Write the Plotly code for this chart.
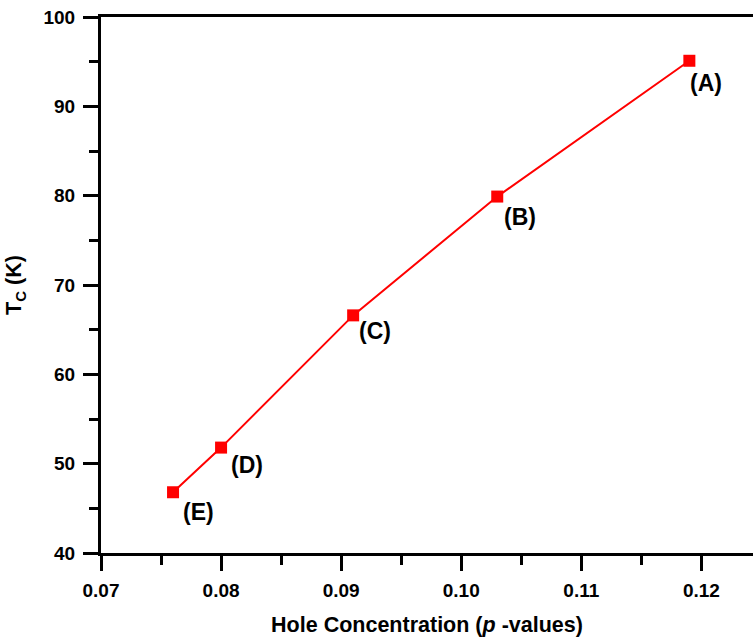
import plotly.graph_objects as go

hole_conc = [0.076, 0.080, 0.091, 0.103, 0.119]
tc_values = [46.8, 51.8, 66.6, 79.9, 95.1]
point_labels = ["(E)", "(D)", "(C)", "(B)", "(A)"]
label_dx = [25, 26, 22, 23, 17]
label_dy = [-20, -17, -16, -20, -22]

FONT = "Liberation Sans, Arial, sans-serif"

fig = go.Figure()
fig.add_trace(go.Scatter(
    x=hole_conc, y=tc_values, mode="lines+markers",
    line=dict(color="#ff0000", width=2),
    marker=dict(symbol="square", size=12, color="#ff0000"),
    showlegend=False,
))

for xv, yv, t, dx, dy in zip(hole_conc, tc_values, point_labels, label_dx, label_dy):
    fig.add_annotation(x=xv, y=yv, text=t, showarrow=False,
                       xshift=dx, yshift=dy,
                       font=dict(family=FONT, size=23, color="black", weight="bold"))

fig.update_layout(
    width=753, height=638,
    margin=dict(l=101, r=0, t=17, b=85, autoexpand=False),
    plot_bgcolor="white", paper_bgcolor="white",
    font=dict(family=FONT, color="black"),
)
fig.update_xaxes(
    range=[0.07, 0.1243], tickmode="linear", tick0=0.07, dtick=0.01, tickformat=".2f",
    showgrid=False, zeroline=False, automargin=False,
    showline=True, linecolor="black", linewidth=3, mirror=True,
    ticks="outside", ticklen=15, tickwidth=3, tickcolor="black",
    minor=dict(ticks="outside", ticklen=9, tickwidth=3, tickcolor="black", dtick=0.005, tick0=0.07, showgrid=False),
    tickfont=dict(family=FONT, size=19, weight="bold"),
    ticklabelstandoff=3,
    title=dict(text="Hole Concentration (<i>p</i> -values)", font=dict(family=FONT, size=21.5, weight="bold"), standoff=18),
)
fig.update_yaxes(
    range=[40, 100], tickmode="linear", tick0=40, dtick=10,
    showgrid=False, zeroline=False, automargin=False,
    showline=True, linecolor="black", linewidth=3,
    ticks="outside", ticklen=15, tickwidth=3, tickcolor="black",
    minor=dict(ticks="outside", ticklen=9, tickwidth=3, tickcolor="black", dtick=5, tick0=40, showgrid=False),
    tickfont=dict(family=FONT, size=19, weight="bold"),
    ticklabelstandoff=4,
    title=dict(text="T<sub>C</sub> (K)", font=dict(family=FONT, size=21.5, weight="bold"), standoff=16),
)

fig.write_html("out.html",
               config={"displayModeBar": False},
               post_script="document.body.style.margin='0';document.body.style.overflow='hidden';")
